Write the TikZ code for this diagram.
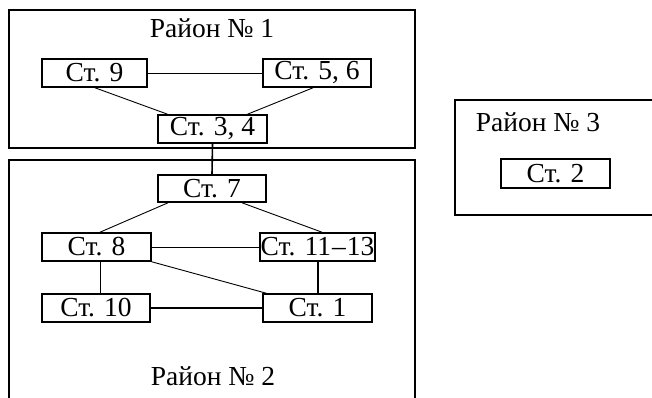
\documentclass[tikz,border=0pt]{standalone}
\usepackage{fontspec}
\setmainfont{Liberation Serif}
\usetikzlibrary{calc}
\tikzset{
  x=1pt, y=-1pt,
  st/.style={draw, line width=1.6pt, inner sep=0pt, minimum height=28pt,
    font=\fontsize{27.5}{32}\selectfont},
  area/.style={font=\fontsize{27.5}{32}\selectfont, inner sep=0pt},
  frame/.style={line width=1.8pt},
  link/.style={line width=0.9pt},
  boldlink/.style={line width=1.6pt}
}
\begin{document}
\begin{tikzpicture}
\useasboundingbox (0,0) rectangle (652,398);
\clip (0,0) rectangle (652,398);

% district frames
\draw[frame] (9,10) rectangle (415,148);
\draw[frame] (9,405) -- (9,160) -- (415,160) -- (415,405);
\draw[frame] (660,100) -- (455,100) -- (455,215) -- (660,215);

% district labels
\node[area] (r1) at (212,28) {Район № 1};
\node[area] (r2) at (213,376) {Район № 2};
\node[area] (r3) at (538,122) {Район № 3};

% stations, district 1
\node[st, minimum width=105pt] (n9)  at (94.5,73) {Ст. 9};
\node[st, minimum width=108pt] (n56) at (317,73) {Ст. 5, 6};
\node[st, minimum width=109pt] (n34) at (212.5,129) {Ст. 3, 4};

% stations, district 2
\node[st, minimum width=108pt, minimum height=27pt] (n7) at (212,188.5) {Ст. 7};
\node[st, minimum width=109pt] (n8)    at (96.5,247) {Ст. 8};
\node[st, minimum width=115pt] (n1113) at (317.5,247) {Ст. 11\kern1pt–\kern1pt13};
\node[st, minimum width=108pt] (n10)   at (96,308) {Ст. 10};
\node[st, minimum width=109pt] (n1)    at (317.5,308) {Ст. 1};

% station, district 3
\node[st, minimum width=109pt, minimum height=29pt] (n2) at (555.5,173.5) {Ст. 2};

% links
\draw[link] (n9.east) -- (n56.west);
\draw[link] ([xshift=0.5pt]n9.south) -- ([xshift=-45pt]n34.north);
\draw[link] ([xshift=-4pt]n56.south) -- ([xshift=35pt]n34.north);
\draw[boldlink] (n34.south) -- (n7.north);
\draw[link] ([xshift=-44pt]n7.south) -- ([xshift=3.5pt]n8.north);
\draw[link] ([xshift=30pt]n7.south) -- ([xshift=4.5pt]n1113.north);
\draw[link] (n8.east) -- (n1113.west);
\draw[link] (n8.south east) -- ([xshift=4pt]n1.north west);
\draw[link] ([xshift=3.5pt]n8.south) -- ([xshift=3.5pt]n8.south |- n10.north);
\draw[boldlink] ([xshift=0.5pt]n1113.south) -- ([xshift=0.5pt]n1113.south |- n1.north);
\draw[boldlink] (n10.east) -- (n1.west);
\end{tikzpicture}
\end{document}
